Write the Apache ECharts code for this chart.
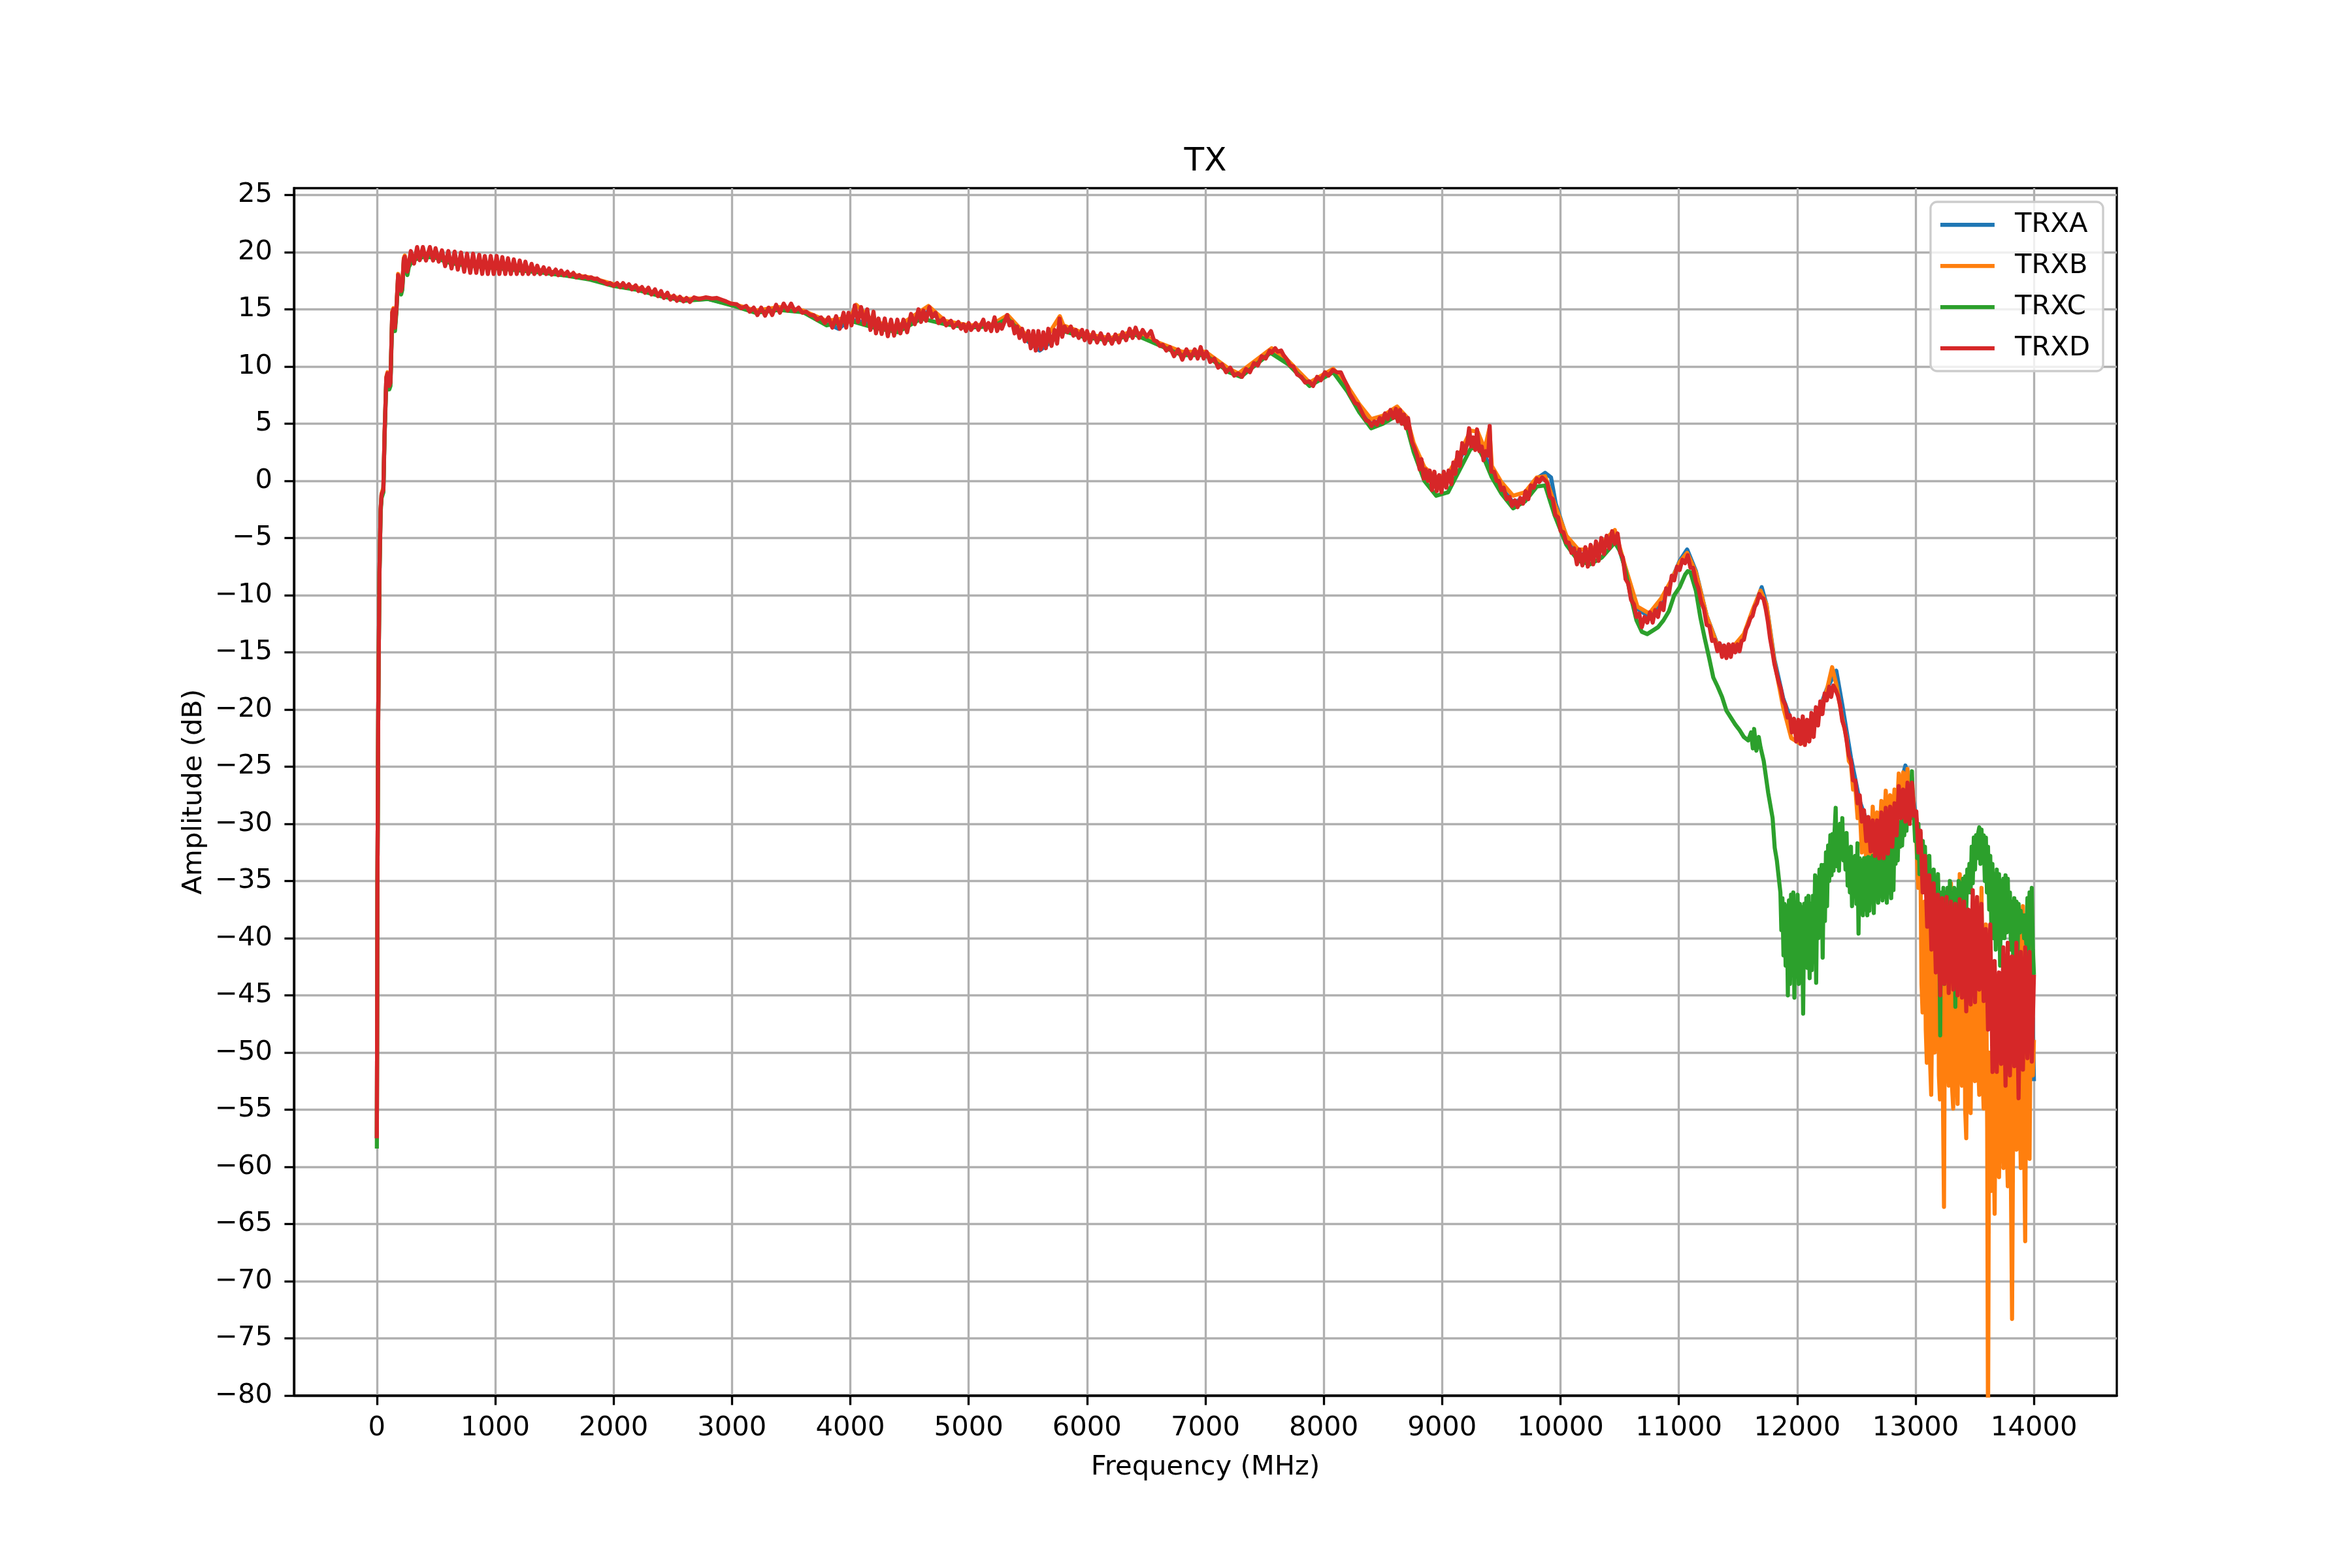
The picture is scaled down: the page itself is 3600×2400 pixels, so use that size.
<!DOCTYPE html>
<html>
<head>
<meta charset="utf-8">
<script src="https://cdn.jsdelivr.net/npm/echarts@6/dist/echarts.min.js"></script>
<style>html,body{margin:0;padding:0;background:#fff}#chart{width:3600px;height:2400px}</style>
</head>
<body>
<div id="chart"></div>
<script>
// ---- data (frequency MHz, amplitude dB) ----
const seriesNames = ['TRXA', 'TRXB', 'TRXC', 'TRXD'];
const xTickValues = [0,1000,2000,3000,4000,5000,6000,7000,8000,9000,10000,11000,12000,13000,14000];
const yTickValues = [-80,-75,-70,-65,-60,-55,-50,-45,-40,-35,-30,-25,-20,-15,-10,-5,0,5,10,15,20,25];

const trxaPoints = [[0,-57.5],[5,-35],[12,-20],[22,-8],[32,-2.5],[40,-1.2],[55,-0.8],[65,4],[80,9.0],[90,9.4],[105,8.3],[115,8.6],[130,14.7],[140,15.0],[153,13.4],[165,15.0],[180,18.0],[188,18.1],[205,16.6],[215,17.0],[228,19.4],[236,19.6],[258,18.3],[270,19.0],[300,19.5],[400,19.8],[500,19.7],[600,19.3],[700,19.1],[800,18.9],[900,18.8],[1000,18.8],[1200,18.6],[1400,18.3],[1600,18.0],[1800,17.7],[2000,17.1],[2200,16.8],[2400,16.2],[2600,15.8],[2800,15.9],[3000,15.4],[3200,14.8],[3400,15.1],[3600,14.8],[3800,13.8],[3900,13.3],[4000,14.1],[4200,13.7],[4400,13.3],[4660,14.8],[4800,13.9],[5000,13.5],[5200,13.6],[5330,14.1],[5500,12.2],[5600,11.4],[5700,12.2],[5800,13.2],[6000,12.6],[6200,12.4],[6400,12.9],[6600,12.0],[6800,11.1],[7000,11.1],[7200,9.6],[7280,9.2],[7560,11.4],[7700,10.4],[7880,8.5],[8080,9.7],[8200,8.1],[8300,6.4],[8400,5.0],[8500,5.3],[8620,5.9],[8700,5.3],[8760,3.0],[8850,0.8],[8950,-0.2],[9050,0.1],[9150,1.9],[9240,3.8],[9300,3.6],[9360,2.3],[9420,0.7],[9500,-0.6],[9600,-1.9],[9700,-1.5],[9800,0.2],[9870,0.7],[9920,0.3],[9960,-2.0],[10050,-4.9],[10150,-6.4],[10250,-6.5],[10350,-5.9],[10459,-4.8],[10550,-7.7],[10650,-11.2],[10750,-11.9],[10850,-10.6],[10941,-8.6],[11007,-7.0],[11070,-6.0],[11144,-7.9],[11235,-11.8],[11326,-14.3],[11402,-14.6],[11476,-14.4],[11549,-13.5],[11623,-11.4],[11700,-9.3],[11740,-10.8],[11807,-15.6],[11881,-19.0],[11950,-21.0],[12029,-21.8],[12102,-21.6],[12176,-20.2],[12250,-18.2],[12330,-16.6],[12381,-19.6],[12454,-24.2],[12528,-28.0],[12601,-30.2],[12675,-30.5],[12748,-29.8],[12822,-28.6],[12914,-24.9],[12969,-27.0],[13042,-32.0],[13116,-37.0],[13189,-40.0],[13262,-40.5],[13336,-41.0],[13410,-41.5],[13483,-41.0],[13557,-41.0],[13631,-45.0],[13705,-46.5],[13779,-46.5],[13852,-47.0],[13926,-46.0],[13990,-47.0],[14000,-52.5]];

const trxbPoints = [[0,-57.5],[5,-35],[12,-20],[22,-8],[32,-2.4],[40,-1.1],[55,-0.6],[65,4.1],[80,9.1],[90,9.5],[105,8.4],[115,8.7],[130,14.8],[140,15.1],[153,13.5],[165,15.1],[180,18.1],[188,18.2],[205,16.7],[215,17.1],[228,19.5],[236,19.7],[258,18.4],[270,19.1],[300,19.6],[400,19.9],[500,19.8],[600,19.4],[700,19.2],[800,19.0],[900,18.9],[1000,18.9],[1200,18.7],[1400,18.4],[1600,18.1],[1800,17.8],[2000,17.2],[2200,16.9],[2400,16.3],[2600,15.9],[2800,16.0],[3000,15.5],[3200,14.9],[3400,15.2],[3600,14.9],[3800,14.0],[4000,14.3],[4050,15.4],[4200,13.9],[4400,13.5],[4660,15.3],[4800,14.0],[5000,13.6],[5200,13.7],[5330,14.5],[5500,12.6],[5650,12.4],[5770,14.4],[5800,13.6],[6000,12.8],[6200,12.5],[6400,13.1],[6600,12.1],[6800,11.3],[7000,11.3],[7200,9.8],[7280,9.4],[7560,11.6],[7700,10.5],[7880,8.6],[8080,9.8],[8200,8.3],[8300,6.7],[8400,5.4],[8500,5.7],[8620,6.5],[8700,5.6],[8760,3.3],[8850,1.2],[8950,0.3],[9050,0.6],[9150,2.4],[9240,4.4],[9300,4.3],[9360,2.8],[9400,4.6],[9420,1.3],[9500,-0.1],[9600,-1.3],[9700,-1.0],[9800,0.3],[9870,0.4],[9950,-2.0],[10050,-4.8],[10150,-6.0],[10250,-6.0],[10350,-5.4],[10459,-4.3],[10550,-7.6],[10650,-11.0],[10750,-11.6],[10850,-10.3],[10941,-8.6],[11007,-7.1],[11070,-6.3],[11144,-8.0],[11235,-11.8],[11326,-14.4],[11402,-14.6],[11476,-14.3],[11549,-13.4],[11623,-11.3],[11690,-9.6],[11740,-10.8],[11807,-15.8],[11881,-19.8],[11950,-22.5],[12029,-23.0],[12102,-22.6],[12176,-20.5],[12250,-18.3],[12295,-16.3],[12330,-17.8],[12381,-20.8],[12417,-22.5],[12436,-24.5],[12454,-24.8],[12472,-27.0],[12491,-26.8],[12510,-29.5],[12528,-28.5],[12546,-32.5],[12564,-30.0],[12583,-33.2],[12601,-30.5],[12620,-33.0],[12638,-28.5],[12656,-32.0],[12675,-29.0],[12693,-31.5],[12711,-28.0],[12730,-31.0],[12748,-27.1],[12766,-30.5],[12785,-27.5],[12803,-30.0],[12822,-27.0],[12840,-29.5],[12858,-25.6],[12877,-28.0],[12895,-25.5],[12914,-27.5],[12932,-25.2],[12950,-28.5],[12969,-26.0],[12988,-29.0],[13004,-30.8],[13022,-35.6],[13041,-32.8],[13050,-44.0],[13059,-46.5],[13068,-40.0],[13077,-36.8],[13086,-48.0],[13095,-50.9],[13105,-42.0],[13114,-37.6],[13123,-51.0],[13132,-53.7],[13142,-45.0],[13151,-36.8],[13160,-50.0],[13170,-48.9],[13179,-44.0],[13188,-34.8],[13197,-52.0],[13206,-54.1],[13215,-46.0],[13225,-38.0],[13232,-55.0],[13240,-63.5],[13250,-40.0],[13262,-36.8],[13271,-50.0],[13280,-52.9],[13290,-44.0],[13299,-35.2],[13308,-53.0],[13318,-54.9],[13327,-46.0],[13336,-36.8],[13345,-50.0],[13355,-54.5],[13364,-45.0],[13373,-34.4],[13382,-51.0],[13392,-52.9],[13401,-47.0],[13410,-36.0],[13419,-55.0],[13428,-57.5],[13437,-48.0],[13446,-37.6],[13455,-52.0],[13465,-55.3],[13474,-46.0],[13483,-38.8],[13492,-50.0],[13502,-52.5],[13511,-45.0],[13520,-36.8],[13529,-51.0],[13538,-53.7],[13548,-46.0],[13557,-35.6],[13566,-52.0],[13575,-54.9],[13585,-47.0],[13594,-38.8],[13605,-56.5],[13612,-84],[13622,-50.0],[13631,-56.0],[13640,-62.1],[13652,-48.9],[13660,-58.0],[13668,-64.1],[13677,-52.0],[13686,-48.9],[13696,-57.0],[13705,-60.9],[13714,-53.0],[13723,-48.9],[13733,-56.0],[13742,-60.1],[13751,-50.0],[13760,-44.8],[13770,-58.0],[13779,-61.7],[13788,-52.0],[13797,-50.0],[13806,-62.0],[13815,-73.3],[13825,-55.0],[13834,-48.9],[13843,-55.0],[13852,-58.5],[13861,-47.0],[13870,-37.6],[13880,-55.0],[13889,-60.1],[13898,-48.0],[13907,-37.2],[13917,-58.0],[13926,-66.5],[13935,-50.0],[13945,-36.8],[13954,-55.0],[13963,-59.3],[13972,-46.0],[13982,-36.8],[13991,-52.0],[14000,-48.9]];

const trxcPoints = [[0,-58.4],[5,-35],[12,-20],[22,-8.3],[32,-2.8],[40,-1.5],[55,-1.0],[65,3.7],[80,8.7],[90,9.1],[105,8.0],[115,8.3],[130,14.4],[140,14.7],[153,13.1],[165,14.7],[180,17.7],[188,17.8],[205,16.3],[215,16.7],[228,19.1],[236,19.3],[258,18.0],[270,18.7],[300,19.3],[400,19.6],[500,19.5],[600,19.1],[700,18.9],[800,18.8],[900,18.7],[1000,18.6],[1200,18.4],[1400,18.2],[1600,17.95],[1800,17.6],[2000,17.05],[2200,16.7],[2400,16.15],[2600,15.75],[2800,15.9],[3000,15.35],[3200,14.7],[3400,14.95],[3600,14.75],[3800,13.6],[4000,14.0],[4200,13.4],[4400,13.0],[4600,14.2],[4800,13.7],[5000,13.4],[5200,13.5],[5330,14.2],[5500,12.3],[5650,12.0],[5800,13.1],[6000,12.5],[6200,12.3],[6400,12.8],[6600,11.9],[6800,11.0],[7000,11.0],[7200,9.5],[7300,9.1],[7550,11.2],[7700,10.2],[7880,8.3],[8080,9.5],[8200,7.8],[8300,6.0],[8400,4.6],[8500,5.0],[8600,5.6],[8700,4.8],[8760,2.5],[8850,0.0],[8950,-1.3],[9050,-1.0],[9150,1.0],[9240,2.8],[9300,3.0],[9360,1.8],[9420,0.3],[9500,-1.1],[9600,-2.4],[9700,-1.8],[9800,-0.5],[9870,-0.4],[9950,-3.0],[10050,-5.6],[10150,-7.0],[10250,-7.3],[10350,-6.7],[10459,-5.4],[10505,-6.2],[10550,-7.9],[10596,-10.2],[10642,-12.2],[10687,-13.2],[10733,-13.4],[10779,-13.1],[10824,-12.8],[10870,-12.2],[10916,-11.4],[10961,-10.0],[11007,-9.3],[11053,-8.2],[11075,-7.9],[11098,-8.0],[11144,-9.6],[11181,-11.9],[11217,-13.7],[11254,-15.4],[11291,-17.2],[11328,-18.0],[11365,-18.9],[11402,-20.1],[11439,-20.7],[11476,-21.3],[11513,-21.8],[11549,-22.4],[11586,-22.7],[11610,-22.0],[11625,-23.4],[11636,-21.7],[11655,-23.6],[11675,-22.4],[11690,-23.3],[11717,-24.5],[11755,-27.3],[11792,-29.5],[11810,-32.1],[11828,-33.2],[11847,-35.0],[11858,-36.0],[11866,-39.3],[11875,-36.5],[11884,-41.5],[11893,-37.0],[11902,-42.4],[11912,-37.2],[11921,-45.0],[11930,-36.7],[11939,-44.0],[11948,-36.2],[11958,-42.5],[11967,-36.0],[11976,-45.2],[11985,-37.0],[11994,-42.6],[12003,-36.2],[12013,-44.0],[12022,-37.0],[12032,-43.0],[12041,-37.3],[12050,-46.6],[12059,-37.0],[12068,-42.4],[12077,-36.5],[12086,-42.6],[12095,-36.3],[12105,-43.5],[12114,-37.0],[12123,-42.8],[12132,-36.3],[12142,-39.8],[12151,-34.5],[12160,-43.9],[12170,-34.7],[12178,-40.0],[12188,-34.0],[12197,-39.8],[12206,-33.6],[12215,-41.7],[12225,-33.6],[12234,-38.5],[12243,-32.5],[12252,-37.2],[12261,-31.9],[12270,-35.0],[12280,-31.0],[12290,-34.5],[12298,-30.9],[12307,-34.1],[12316,-30.6],[12325,-28.6],[12334,-33.7],[12344,-30.6],[12353,-34.1],[12362,-30.0],[12372,-33.0],[12381,-29.5],[12390,-33.2],[12399,-31.2],[12408,-34.0],[12417,-30.8],[12426,-35.4],[12436,-32.3],[12445,-36.0],[12454,-32.0],[12463,-37.2],[12472,-32.9],[12482,-35.8],[12491,-32.8],[12500,-37.0],[12509,-31.7],[12518,-39.6],[12527,-33.0],[12537,-37.0],[12546,-33.2],[12555,-38.0],[12565,-33.0],[12574,-37.5],[12583,-33.0],[12592,-38.0],[12601,-32.9],[12610,-37.6],[12619,-33.0],[12628,-36.5],[12638,-32.8],[12647,-37.8],[12656,-32.8],[12665,-36.5],[12674,-32.8],[12684,-36.9],[12693,-32.8],[12702,-36.0],[12711,-32.5],[12720,-36.7],[12730,-32.8],[12739,-36.4],[12748,-32.4],[12757,-36.9],[12767,-32.4],[12776,-36.0],[12785,-31.5],[12794,-36.5],[12803,-31.5],[12813,-35.8],[12822,-30.6],[12831,-33.5],[12840,-30.0],[12849,-33.2],[12858,-30.2],[12868,-32.0],[12877,-29.8],[12886,-31.9],[12895,-29.3],[12904,-31.0],[12914,-28.8],[12923,-30.6],[12932,-28.5],[12941,-29.8],[12950,-27.0],[12960,-29.5],[12969,-25.4],[12978,-28.8],[12987,-29.4],[12996,-31.5],[13005,-29.5],[13014,-33.0],[13024,-30.0],[13033,-34.4],[13042,-30.8],[13051,-33.2],[13061,-31.5],[13070,-34.4],[13079,-32.0],[13088,-35.6],[13098,-32.9],[13107,-35.8],[13116,-32.8],[13125,-36.4],[13134,-34.4],[13143,-37.3],[13153,-34.0],[13162,-38.4],[13171,-35.2],[13180,-38.2],[13189,-34.4],[13199,-38.4],[13208,-48.5],[13217,-36.0],[13226,-40.0],[13235,-35.6],[13243,-44.0],[13252,-36.0],[13262,-40.5],[13271,-35.6],[13280,-42.0],[13290,-35.0],[13299,-40.0],[13308,-36.0],[13318,-43.0],[13327,-35.6],[13336,-46.0],[13345,-35.8],[13355,-41.0],[13364,-35.0],[13373,-39.0],[13382,-35.2],[13392,-40.0],[13401,-34.8],[13410,-38.4],[13419,-34.6],[13428,-37.5],[13437,-34.0],[13446,-36.0],[13455,-33.5],[13465,-36.0],[13474,-32.0],[13483,-35.2],[13492,-31.2],[13502,-34.0],[13511,-31.0],[13520,-33.0],[13529,-30.8],[13538,-30.3],[13548,-33.5],[13557,-30.5],[13566,-33.0],[13575,-31.0],[13585,-35.0],[13594,-31.2],[13603,-36.0],[13612,-32.0],[13622,-37.5],[13631,-32.8],[13640,-39.2],[13649,-33.5],[13659,-40.0],[13668,-34.4],[13677,-41.0],[13686,-34.0],[13696,-40.5],[13705,-34.4],[13714,-42.4],[13723,-35.0],[13733,-40.0],[13742,-34.8],[13751,-40.0],[13760,-34.5],[13770,-39.5],[13779,-34.8],[13788,-39.2],[13797,-36.0],[13806,-41.0],[13815,-36.8],[13825,-42.0],[13834,-36.5],[13843,-40.5],[13852,-36.8],[13861,-41.6],[13870,-37.0],[13880,-39.5],[13889,-37.6],[13898,-39.0],[13907,-38.0],[13917,-40.0],[13926,-38.0],[13935,-40.5],[13945,-36.5],[13954,-41.6],[13963,-36.0],[13972,-40.0],[13982,-35.6],[13991,-41.0],[14000,-43.2]];

const trxdPoints = [[0,-57.5],[5,-35],[12,-20],[22,-8],[32,-2.5],[40,-1.2],[55,-0.8],[65,4],[80,9.0],[90,9.4],[105,8.3],[115,8.6],[130,14.7],[140,15.0],[153,13.4],[165,15.0],[180,18.0],[188,18.1],[205,16.6],[215,17.0],[228,19.4],[236,19.6],[258,18.3],[270,19.0],[287,20.1],[314,19.0],[340,20.45],[362,19.3],[389,20.45],[415,19.27],[448,20.45],[475,19.27],[496,20.35],[523,19.17],[550,20.16],[577,18.78],[604,20.1],[631,18.58],[657,20.05],[684,18.48],[711,19.97],[738,18.29],[762,19.87],[789,18.19],[813,19.87],[840,18.19],[865,19.77],[890,18.1],[912,19.67],[938,18.09],[962,19.67],[987,18.09],[1012,19.67],[1035,18.09],[1060,19.57],[1085,18.09],[1108,19.47],[1132,18.09],[1157,19.37],[1182,18.09],[1207,19.27],[1232,18.09],[1255,19.17],[1280,18.09],[1307,18.98],[1330,18.09],[1355,18.82],[1380,18.09],[1409,18.68],[1430,18.09],[1455,18.58],[1477,18.03],[1511,18.48],[1533,17.99],[1557,18.39],[1580,17.99],[1610,18.29],[1630,17.9],[1660,18.19],[1685,17.8],[1710,18.0],[1735,17.75],[1760,17.9],[1785,17.7],[1811,17.8],[1835,17.65],[1860,17.7],[1885,17.5],[1918,17.4],[1945,17.2],[1970,17.3],[2000,17.05],[2030,17.3],[2055,16.95],[2080,17.3],[2105,16.9],[2130,17.2],[2155,16.75],[2187,17.1],[2210,16.6],[2240,16.95],[2265,16.45],[2294,16.9],[2320,16.3],[2350,16.75],[2375,16.15],[2401,16.6],[2425,16.0],[2455,16.45],[2480,15.85],[2509,16.2],[2535,15.75],[2560,16.1],[2590,15.7],[2616,16.0],[2645,15.65],[2680,16.05],[2723,15.9],[2780,16.05],[2831,15.95],[2870,16.0],[2911,15.85],[2950,15.7],[2992,15.5],[3040,15.45],[3080,15.1],[3120,15.3],[3150,14.8],[3184,15.15],[3215,14.5],[3247,15.15],[3280,14.45],[3310,15.15],[3340,14.5],[3373,15.4],[3405,14.7],[3437,15.5],[3470,14.9],[3500,15.5],[3530,14.85],[3563,15.15],[3595,14.7],[3627,14.8],[3660,14.5],[3690,14.5],[3720,14.1],[3753,14.3],[3785,13.8],[3816,14.3],[3848,13.4],[3880,14.4],[3910,13.3],[3943,14.7],[3965,13.4],[3985,14.7],[4010,13.6],[4038,15.35],[4065,13.9],[4091,15.2],[4117,13.7],[4143,15.0],[4170,13.2],[4196,14.8],[4217,12.9],[4238,14.2],[4265,12.85],[4291,14.2],[4317,12.65],[4344,14.1],[4370,12.7],[4397,14.1],[4423,12.9],[4449,14.1],[4480,13.0],[4513,14.6],[4545,13.7],[4576,15.0],[4597,13.9],[4618,14.9],[4640,14.0],[4668,15.2],[4690,14.3],[4720,14.7],[4745,13.8],[4787,14.2],[4810,13.6],[4850,14.0],[4871,13.4],[4913,13.9],[4935,13.3],[4956,13.7],[4977,13.1],[5000,13.8],[5020,13.2],[5060,13.8],[5082,13.2],[5124,14.1],[5145,13.2],[5167,13.8],[5190,13.1],[5219,14.3],[5240,13.1],[5262,13.7],[5280,13.3],[5325,14.5],[5345,13.6],[5367,13.9],[5388,12.9],[5409,13.5],[5430,12.5],[5451,13.3],[5475,12.2],[5504,13.1],[5525,11.6],[5546,13.1],[5567,11.4],[5589,13.1],[5610,11.5],[5631,13.0],[5652,11.6],[5673,13.3],[5700,11.8],[5726,13.2],[5747,12.0],[5768,14.2],[5790,12.6],[5810,13.5],[5835,13.0],[5863,13.5],[5885,12.7],[5905,13.2],[5930,12.5],[5958,13.2],[5980,12.3],[6000,13.1],[6025,12.1],[6053,13.0],[6085,12.1],[6116,12.9],[6150,12.0],[6179,12.8],[6210,12.0],[6240,12.8],[6270,12.1],[6300,13.0],[6330,12.3],[6360,13.3],[6385,12.5],[6410,13.4],[6440,12.5],[6470,13.2],[6505,12.6],[6540,13.1],[6565,12.3],[6590,12.2],[6615,11.8],[6640,11.9],[6670,11.4],[6700,11.7],[6735,10.9],[6770,11.5],[6805,10.6],[6840,11.5],[6875,10.7],[6910,11.5],[6935,10.7],[6960,11.7],[6985,10.7],[7010,11.3],[7040,10.4],[7075,10.7],[7108,9.9],[7140,10.2],[7175,9.5],[7210,9.9],[7243,9.2],[7276,9.4],[7310,9.1],[7343,9.8],[7376,9.5],[7410,10.3],[7443,10.1],[7476,10.9],[7510,10.7],[7543,11.4],[7560,11.2],[7590,11.6],[7610,11.3],[7640,11.4],[7660,11.0],[7690,10.6],[7715,10.1],[7743,10.0],[7775,9.3],[7810,9.1],[7843,8.6],[7877,8.7],[7910,8.3],[7944,9.1],[7975,8.8],[8010,9.5],[8040,9.2],[8077,9.7],[8110,9.5],[8144,9.5],[8170,8.9],[8200,8.3],[8220,7.6],[8244,7.2],[8265,6.8],[8290,6.7],[8313,6.2],[8336,5.7],[8358,5.3],[8381,5.2],[8404,4.8],[8427,5.2],[8450,4.9],[8473,5.5],[8495,5.1],[8518,5.9],[8540,5.4],[8564,6.2],[8587,5.5],[8609,6.3],[8626,5.2],[8644,6.2],[8660,5.0],[8678,5.8],[8695,4.6],[8712,5.5],[8725,4.6],[8745,3.4],[8769,2.8],[8790,2.2],[8810,1.0],[8825,1.9],[8845,0.2],[8860,1.0],[8880,0.0],[8895,0.9],[8915,-0.8],[8935,0.8],[8955,-0.9],[8975,0.5],[8995,-1.0],[9015,0.8],[9035,-0.6],[9055,0.9],[9078,-0.3],[9095,1.6],[9112,0.6],[9130,2.5],[9150,1.3],[9170,3.3],[9192,2.4],[9215,3.5],[9228,4.6],[9245,3.0],[9262,3.8],[9280,2.7],[9295,4.5],[9315,2.6],[9335,3.0],[9350,1.8],[9370,2.6],[9390,2.2],[9402,4.8],[9415,0.8],[9440,0.8],[9460,0.0],[9480,0.0],[9500,-0.8],[9520,-0.6],[9545,-1.6],[9570,-1.4],[9591,-2.2],[9615,-1.7],[9637,-2.3],[9660,-1.5],[9683,-2.0],[9705,-0.9],[9728,-1.6],[9750,-0.4],[9774,-0.6],[9800,0.2],[9820,-0.1],[9845,0.3],[9865,0.1],[9890,-0.2],[9911,-1.4],[9935,-1.6],[9957,-3.0],[9980,-3.2],[10002,-4.4],[10025,-4.5],[10048,-5.4],[10070,-5.4],[10093,-6.3],[10115,-5.9],[10139,-7.3],[10160,-6.0],[10185,-7.4],[10210,-5.8],[10231,-7.5],[10255,-5.6],[10276,-7.3],[10300,-5.3],[10322,-7.0],[10345,-5.0],[10368,-6.4],[10390,-4.8],[10413,-5.9],[10436,-4.4],[10459,-5.5],[10482,-4.6],[10505,-6.3],[10527,-6.7],[10550,-8.6],[10573,-9.0],[10596,-10.4],[10620,-10.8],[10642,-11.9],[10665,-11.6],[10687,-12.8],[10710,-11.9],[10733,-12.4],[10756,-11.5],[10779,-12.4],[10800,-11.3],[10824,-11.9],[10847,-10.7],[10870,-11.3],[10893,-9.4],[10916,-9.9],[10940,-8.3],[10961,-8.7],[10985,-7.5],[11007,-7.8],[11030,-6.9],[11053,-7.2],[11075,-6.5],[11098,-7.6],[11120,-7.6],[11144,-8.8],[11166,-9.4],[11189,-10.6],[11212,-11.2],[11235,-12.6],[11258,-12.7],[11281,-14.0],[11303,-13.9],[11326,-14.9],[11345,-14.2],[11365,-15.4],[11383,-14.4],[11402,-15.5],[11420,-14.3],[11439,-15.4],[11458,-14.3],[11476,-15.0],[11495,-14.3],[11513,-14.9],[11530,-14.0],[11549,-13.9],[11568,-13.0],[11586,-12.6],[11605,-12.0],[11623,-11.8],[11642,-11.0],[11660,-10.7],[11680,-9.9],[11697,-10.2],[11715,-10.3],[11734,-11.2],[11752,-12.3],[11771,-13.8],[11790,-14.9],[11807,-16.0],[11825,-16.8],[11844,-17.6],[11862,-18.2],[11881,-19.2],[11900,-19.6],[11918,-20.7],[11937,-20.5],[11955,-22.0],[11973,-20.8],[11992,-22.8],[12010,-20.9],[12029,-23.0],[12047,-20.6],[12065,-23.1],[12084,-20.9],[12102,-22.8],[12120,-20.3],[12139,-22.4],[12158,-19.8],[12176,-21.4],[12195,-19.3],[12213,-20.4],[12232,-18.6],[12250,-19.2],[12270,-18.0],[12287,-18.9],[12305,-17.9],[12325,-18.3],[12344,-18.8],[12362,-19.6],[12381,-21.0],[12400,-21.6],[12417,-22.7],[12436,-24.0],[12454,-24.5],[12472,-26.2],[12491,-26.2],[12510,-28.2],[12528,-27.5],[12546,-29.8],[12564,-28.8],[12583,-31.5],[12601,-29.4],[12620,-32.4],[12638,-29.7],[12656,-32.8],[12675,-29.7],[12693,-33.0],[12711,-29.0],[12730,-33.0],[12748,-28.6],[12766,-32.6],[12785,-28.5],[12803,-32.0],[12822,-28.2],[12840,-31.0],[12858,-26.7],[12877,-29.5],[12895,-27.0],[12914,-29.8],[12932,-26.4],[12950,-30.0],[12969,-26.4],[12988,-29.3],[13006,-28.9],[13024,-32.5],[13042,-30.6],[13060,-36.0],[13079,-32.8],[13098,-39.0],[13116,-34.5],[13134,-41.0],[13153,-35.2],[13171,-43.0],[13189,-36.2],[13208,-45.0],[13225,-36.5],[13243,-44.0],[13262,-36.4],[13280,-44.8],[13299,-36.8],[13318,-44.5],[13336,-37.0],[13355,-45.0],[13373,-36.6],[13392,-45.2],[13410,-36.8],[13428,-46.4],[13446,-37.5],[13465,-45.8],[13483,-35.8],[13502,-45.6],[13520,-36.4],[13538,-44.5],[13557,-37.0],[13575,-45.5],[13594,-39.2],[13612,-48.0],[13631,-38.8],[13650,-51.7],[13668,-42.0],[13686,-51.7],[13705,-43.0],[13723,-51.0],[13742,-40.8],[13760,-52.9],[13779,-40.4],[13797,-52.0],[13815,-41.6],[13834,-51.2],[13852,-40.4],[13870,-54.0],[13889,-41.2],[13907,-51.5],[13926,-40.8],[13945,-50.5],[13963,-41.2],[13982,-50.8],[14000,-43.2]];

// ---- styling ----
const seriesColors = ['#1f77b4', '#ff7f0e', '#2ca02c', '#d62728'];
const seriesPoints = [trxaPoints, trxbPoints, trxcPoints, trxdPoints];
const FONT = 'DejaVu Sans';
const FS = 41.7;
const LW = 3.33;
const fmtTick = v => (v < 0 ? '\u2212' + Math.abs(v) : String(v));

const chart = echarts.init(document.getElementById('chart'), null, {renderer: 'canvas', width: 3600, height: 2400});

const option = {
  animation: false,
  backgroundColor: '#ffffff',
  textStyle: {fontFamily: FONT},
  title: {
    text: 'TX', left: 1845, top: 223, textAlign: 'center', padding: 0,
    textStyle: {fontFamily: FONT, fontSize: 50, fontWeight: 'normal', color: '#000'}
  },
  grid: {left: 450, right: 360, top: 288, bottom: 264, containLabel: false, show: true, borderColor: '#000', borderWidth: LW, backgroundColor: 'transparent'},
  legend: {
    data: seriesNames, orient: 'vertical', right: 381, top: 309,
    icon: 'rect', itemWidth: 83, itemHeight: 6.25, itemGap: 21,
    padding: [14, 20, 14, 15],
    backgroundColor: 'rgba(255,255,255,0.8)', borderColor: '#cccccc', borderWidth: LW, borderRadius: 10,
    textStyle: {fontFamily: FONT, fontSize: FS, color: '#000', lineHeight: 42, padding: [0, 0, 0, 26]}
  },
  xAxis: {
    type: 'value', min: -700, max: 14700,
    name: 'Frequency (MHz)', nameLocation: 'middle', nameGap: 89,
    nameTextStyle: {fontFamily: FONT, fontSize: FS, color: '#000'},
    axisLine: {show: true, onZero: false, lineStyle: {color: '#000', width: LW}},
    axisTick: {show: true, inside: false, length: 14.6, lineStyle: {color: '#000', width: LW}, customValues: xTickValues},
    axisLabel: {show: true, customValues: xTickValues, margin: 29, fontFamily: FONT, fontSize: FS, color: '#000', formatter: fmtTick},
    splitLine: {show: true, lineStyle: {color: '#b0b0b0', width: LW}}
  },
  yAxis: {
    type: 'value', min: -80, max: 25.6,
    name: 'Amplitude (dB)', nameLocation: 'middle', nameGap: 130, nameRotate: 90,
    nameTextStyle: {fontFamily: FONT, fontSize: FS, color: '#000'},
    axisLine: {show: true, onZero: false, lineStyle: {color: '#000', width: LW}},
    axisTick: {show: true, inside: false, length: 14.6, lineStyle: {color: '#000', width: LW}, customValues: yTickValues},
    axisLabel: {show: true, customValues: yTickValues, margin: 33, fontFamily: FONT, fontSize: FS, color: '#000', formatter: fmtTick},
    splitLine: {show: true, lineStyle: {color: '#b0b0b0', width: LW}}
  },
  series: seriesNames.map((name, i) => ({
    name: name, type: 'line', data: seriesPoints[i],
    color: seriesColors[i],
    showSymbol: false, symbol: 'none', clip: true, sampling: null,
    lineStyle: {color: seriesColors[i], width: 6.25, join: 'round', cap: 'butt'},
    emphasis: {disabled: true}, silent: true, z: 2 + i * 0.01
  }))
};
chart.setOption(option);
</script>
</body>
</html>
